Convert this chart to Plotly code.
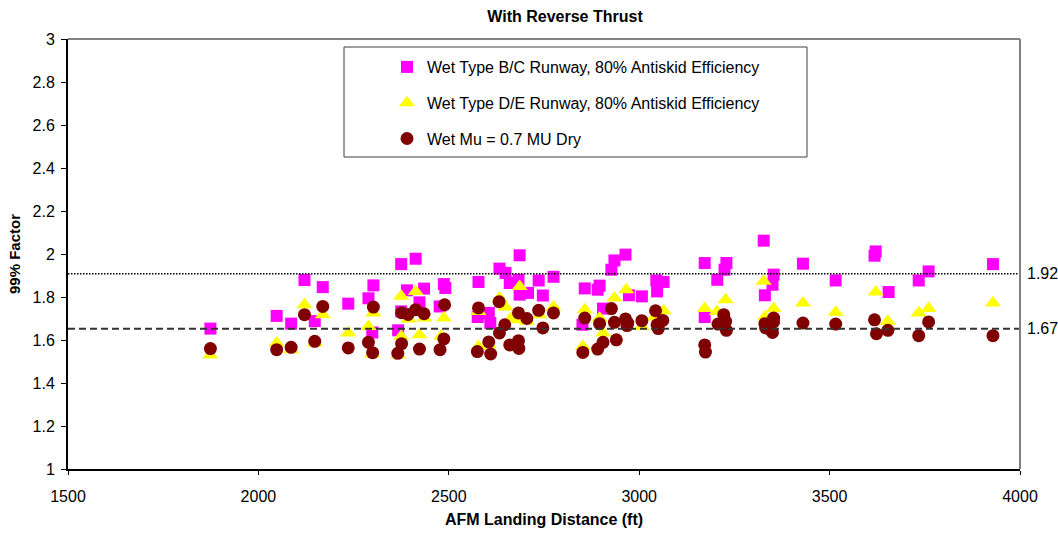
import plotly.graph_objects as go

# ---------------- data ----------------
bc_x = [1874, 2048, 2086, 2121, 2148, 2169, 2236, 2289, 2302, 2299, 2375, 2367, 2390, 2375,
        2413, 2435, 2423, 2487, 2491, 2476, 2578, 2576, 2605, 2609, 2633, 2649, 2660, 2686,
        2683, 2686, 2708, 2736, 2747, 2775, 2857, 2896, 2891, 2905, 2851, 2927, 2935, 2964,
        2973, 3007, 3045, 3064, 3047, 3172, 3172, 3229, 3224, 3205, 3327, 3353, 3350, 3330,
        3430, 3516, 3621, 3618, 3655, 3734, 3760, 3929]
bc_y = [1.653, 1.712, 1.676, 1.879, 1.688, 1.846, 1.769, 1.794, 1.854, 1.635, 1.953, 1.645, 1.831, 1.733,
        1.978, 1.839, 1.775, 1.860, 1.842, 1.756, 1.870, 1.707, 1.726, 1.679, 1.932, 1.912, 1.865, 1.994,
        1.880, 1.811, 1.819, 1.877, 1.807, 1.894, 1.840, 1.853, 1.834, 1.746, 1.671, 1.927, 1.970, 1.997,
        1.808, 1.803, 1.877, 1.870, 1.826, 1.958, 1.707, 1.958, 1.927, 1.880, 2.062, 1.904, 1.857, 1.808,
        1.955, 1.877, 2.012, 1.992, 1.823, 1.877, 1.919, 1.953]

de_x = [1874, 2048, 2086, 2121, 2148, 2169, 2236, 2289, 2302, 2299, 2375, 2375, 2367, 2395,
        2413, 2436, 2423, 2487, 2480, 2578, 2578, 2605, 2633, 2649, 2664, 2686, 2683, 2705,
        2737, 2775, 2857, 2852, 2896, 2905, 2935, 2966, 3007, 3040, 3064, 3172, 3204, 3227,
        3327, 3330, 3353, 3430, 3516, 3621, 3653, 3734, 3760, 3929]
de_y = [1.530, 1.586, 1.555, 1.764, 1.586, 1.718, 1.633, 1.663, 1.726, 1.535, 1.803, 1.617, 1.530, 1.698,
        1.826, 1.702, 1.625, 1.702, 1.617, 1.733, 1.570, 1.578, 1.795, 1.753, 1.702, 1.849, 1.694, 1.687,
        1.718, 1.753, 1.741, 1.570, 1.702, 1.633, 1.795, 1.834, 1.663, 1.707, 1.736, 1.746, 1.733, 1.787,
        1.873, 1.707, 1.746, 1.772, 1.729, 1.823, 1.687, 1.726, 1.746, 1.772]

mu_x = [1874, 2048, 2086, 2121, 2148, 2169, 2236, 2289, 2300, 2302, 2366, 2376, 2376, 2393,
        2413, 2435, 2423, 2489, 2487, 2477, 2578, 2575, 2632, 2647, 2633, 2605, 2610, 2660,
        2683, 2683, 2684, 2705, 2736, 2747, 2775, 2857, 2852, 2896, 2891, 2905, 2927, 2935,
        2940, 2964, 2970, 2968, 3007, 3043, 3062, 3047, 3050, 3172, 3174, 3222, 3227, 3207,
        3229, 3330, 3353, 3353, 3332, 3350, 3430, 3516, 3618, 3623, 3653, 3734, 3760, 3929]
mu_y = [1.560, 1.555, 1.566, 1.718, 1.594, 1.756, 1.563, 1.589, 1.541, 1.753, 1.538, 1.583, 1.727, 1.719,
        1.741, 1.722, 1.558, 1.764, 1.605, 1.555, 1.749, 1.546, 1.778, 1.671, 1.633, 1.591, 1.535, 1.577,
        1.726, 1.597, 1.561, 1.700, 1.738, 1.656, 1.726, 1.702, 1.542, 1.676, 1.558, 1.589, 1.746, 1.682,
        1.601, 1.698, 1.679, 1.667, 1.690, 1.736, 1.691, 1.671, 1.653, 1.577, 1.544, 1.718, 1.687, 1.674,
        1.645, 1.676, 1.702, 1.684, 1.656, 1.635, 1.679, 1.674, 1.694, 1.629, 1.645, 1.620, 1.684, 1.620]

series_names = ["Wet Type B/C Runway, 80% Antiskid Efficiency",
                "Wet Type D/E Runway, 80% Antiskid Efficiency",
                "Wet Mu = 0.7 MU Dry"]

ref_levels = [1.908, 1.652]      # drawn line positions
ref_labels = ["1.92", "1.67"]

x_range = [1500, 4000]
y_range = [1, 3]
x_ticks = [1500, 2000, 2500, 3000, 3500, 4000]
y_ticks = [1, 1.2, 1.4, 1.6, 1.8, 2, 2.2, 2.4, 2.6, 2.8, 3]

FONT = "Liberation Sans, Arial, sans-serif"

fig = go.Figure()
fig.add_trace(go.Scatter(x=bc_x, y=bc_y, mode="markers", name=series_names[0], legendgroup="a",
                         marker=dict(symbol="square", size=12, color="#FF00FF", line=dict(width=0))))
fig.add_trace(go.Scatter(x=de_x, y=de_y, mode="markers", name=series_names[1], legendgroup="b",
                         marker=dict(symbol="triangle-up", size=14, color="#FFFF00", line=dict(width=0))))
fig.add_trace(go.Scatter(x=mu_x, y=mu_y, mode="markers", name=series_names[2], legendgroup="c",
                         marker=dict(symbol="circle", size=13, color="#800000", line=dict(width=0))))

# reference lines
dashes = ["1.5px,1.5px", "7px,4px"]
widths = [1.5, 2]
colors = ["#000000", "#333333"]
for lvl, lab, d, w, c in zip(ref_levels, ref_labels, dashes, widths, colors):
    fig.add_shape(type="line", xref="paper", x0=0, x1=1, yref="y", y0=lvl, y1=lvl,
                  line=dict(color=c, width=w, dash=d), layer="above")
    fig.add_annotation(xref="paper", x=1, xshift=5, yref="y", y=lvl, text=lab, showarrow=False,
                       xanchor="left", yanchor="middle", font=dict(family=FONT, size=16, color="#000"))

# top / right gray frame
fig.add_shape(type="line", xref="paper", yref="paper", x0=0, x1=1, y0=1, y1=1,
              line=dict(color="#808080", width=2))
fig.add_shape(type="line", xref="paper", yref="paper", x0=1, x1=1, y0=0, y1=1,
              line=dict(color="#808080", width=2))

# legend box
W, H = 952, 430
L, T = 68, 39
def px(xp): return (xp - L) / W
def py(yp): return (T + H - yp) / H
fig.add_shape(type="rect", xref="paper", yref="paper", x0=px(344), x1=px(807), y0=py(157), y1=py(47),
              line=dict(color="#404040", width=1), fillcolor="white", layer="above")

fig.update_layout(
    width=1058, height=533,
    margin=dict(l=L, r=1058 - L - W, t=T, b=533 - T - H),
    paper_bgcolor="white", plot_bgcolor="white",
    font=dict(family=FONT, size=16, color="#000"),
    title=dict(text="<b>With Reverse Thrust</b>", xref="container", yref="container",
               x=565 / 1058, y=1 - 16 / 533, xanchor="center", yanchor="middle",
               font=dict(family=FONT, size=16, color="#000")),
    showlegend=True,
    legend=dict(x=px(387), y=py(50), xanchor="left", yanchor="top", bgcolor="rgba(0,0,0,0)",
                borderwidth=0, tracegroupgap=12, font=dict(family=FONT, size=16, color="#000"),
                itemsizing="trace", itemwidth=30),
    xaxis=dict(range=x_range, tickvals=x_ticks, showgrid=False, zeroline=False, automargin=False,
               showline=True, linecolor="#000", linewidth=2, ticks="outside", ticklen=4,
               tickcolor="#000", tickfont=dict(family=FONT, size=16),
               ticklabelstandoff=8,
               title=dict(text="<b>AFM Landing Distance (ft)</b>", standoff=10,
                          font=dict(family=FONT, size=16))),
    yaxis=dict(range=y_range, tickvals=y_ticks, showgrid=False, zeroline=False, automargin=False,
               showline=True, linecolor="#000", linewidth=2, ticks="outside", ticklen=5,
               tickcolor="#000", tickfont=dict(family=FONT, size=16),
               ticklabelstandoff=3,
               title=dict(text="<b>99% Factor</b>", standoff=8,
                          font=dict(family=FONT, size=15))),
)

fig.write_html("out.html")
